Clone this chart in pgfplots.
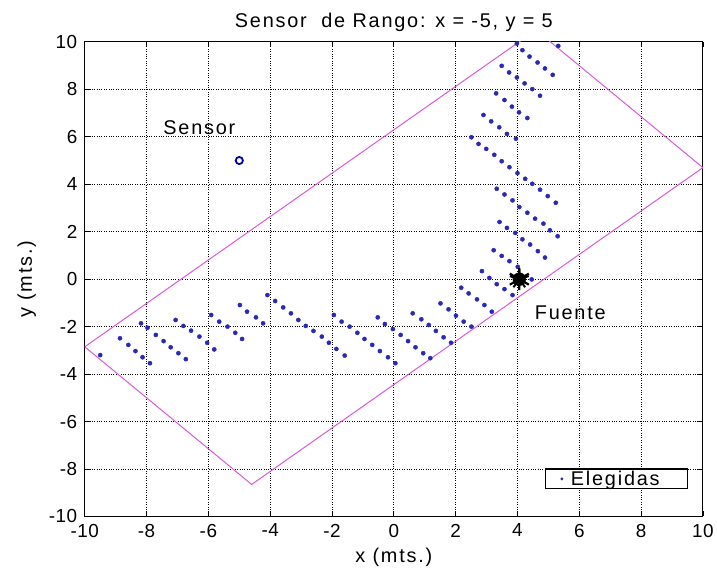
\documentclass[border=0pt]{standalone}
\usepackage{fontspec}
\setmainfont{Liberation Sans}
\usepackage{pgfplots}
\pgfplotsset{compat=1.18}
\definecolor{dotblue}{rgb}{0.16,0.16,0.72}
\definecolor{rectmag}{rgb}{0.85,0.35,0.85}
\newcommand{\txtfont}{\fontsize{20}{24}\selectfont\addfontfeature{LetterSpace=9}}

\begin{document}
\begin{tikzpicture}
\begin{axis}[
  name=ax,
  scale only axis, width=620bp, height=476bp,
  xmin=-10, xmax=10, ymin=-10, ymax=10,
  xtick={-10,-8,...,10}, ytick={-10,-8,...,10},
  grid=major, major grid style={black, dotted, line width=0.9pt},
  axis line style={black, line width=1.1pt},
  tick style={black, line width=0.8pt}, major tick length=5bp, tick align=inside,
  title={Sensor\ \ de Rango: x = -5, y = 5},
  title style={yshift=1bp},
  xlabel={x (mts.)}, ylabel={y (mts.)},
  xlabel shift=4bp, ylabel shift=6bp,
  xticklabel style={yshift=-4bp},
  yticklabel style={xshift=-4bp},
  font=\txtfont,
  tick label style={font=\fontsize{19}{22}\selectfont\addfontfeature{LetterSpace=3}},
  /pgf/number format/assume math mode=true,
  legend style={at={(0.976,0.057)}, anchor=south east, draw=black, line width=1.1pt,
    font=\txtfont, inner xsep=2bp, inner ysep=0bp},
  legend image code/.code={\path[draw=none,fill=none] (0,0) -- (0.75cm,0);
    \fill[dotblue,draw=none] (0.5cm,0) circle (1.6bp);},
]
% area of the range sensor
\addplot[rectmag, line width=1pt, forget plot] coordinates {
  (-10,-2.85) (-4.6,-8.65) (10,4.7) (4.6,10.5) (-10,-2.85)};

% chosen points
\addplot[only marks, mark=*, mark size=2.1bp, dotblue] coordinates {
  (-9.5,-3.2)
  (-8.86,-2.49) (-8.59,-2.77) (-8.36,-3.03) (-8.13,-3.29) (-7.89,-3.54)
  (-8.18,-1.86) (-7.97,-2.05) (-7.70,-2.35) (-7.45,-2.61) (-7.22,-2.87) (-6.97,-3.12) (-6.73,-3.37)
  (-7.06,-1.72) (-6.81,-1.97) (-6.56,-2.17) (-6.29,-2.42) (-6.04,-2.68) (-5.81,-2.96)
  (-5.91,-1.51) (-5.65,-1.79) (-5.38,-2.00) (-5.13,-2.26) (-4.91,-2.52)
  (-4.98,-1.09) (-4.75,-1.37) (-4.46,-1.61) (-4.23,-1.86)
  (-4.09,-0.67) (-3.84,-0.92) (-3.58,-1.19) (-3.33,-1.44) (-3.09,-1.72) (-2.85,-1.97)
  (-2.60,-2.18) (-2.33,-2.42) (-2.10,-2.68) (-1.86,-2.94) (-1.59,-3.22)
  (-1.94,-1.51) (-1.69,-1.79) (-1.43,-2.00) (-1.18,-2.26) (-0.95,-2.52) (-0.70,-2.77)
  (-0.45,-3.03) (-0.19,-3.29) (0.05,-3.54)
  (-0.52,-1.61) (-0.29,-1.89) (-0.03,-2.10) (0.22,-2.35) (0.46,-2.61) (0.70,-2.87) (0.95,-3.12) (1.18,-3.33)
  (0.61,-1.44) (0.89,-1.69) (1.13,-1.93) (1.36,-2.18) (1.61,-2.45) (1.85,-2.68)
  (1.51,-1.02) (1.77,-1.27) (2.01,-1.54) (2.26,-1.79) (2.51,-2.00)
  (2.18,-0.36) (2.42,-0.60) (2.69,-0.85) (2.93,-1.09) (3.17,-1.37)
  (2.85,0.34) (3.09,0.05) (3.33,-0.21) (3.58,-0.42) (3.84,-0.67)
  (3.23,1.22) (3.49,0.98) (3.74,0.76) (4.01,0.52) (4.46,-0.01)
  (3.42,2.41) (3.66,2.16) (3.93,1.95) (4.16,1.68) (4.41,1.46) (4.66,1.18) (4.89,0.91)
  (3.33,3.81) (3.58,3.57) (3.84,3.32) (4.06,3.04) (4.32,2.80) (4.57,2.55) (4.84,2.34) (5.05,2.06) (5.30,1.81)
  (2.51,5.98) (2.74,5.70) (2.99,5.49) (3.25,5.24) (3.49,4.97) (3.74,4.72) (4.00,4.47) (4.25,4.23)
  (4.48,4.02) (4.73,3.77) (4.98,3.50) (5.24,3.22)
  (2.90,6.92) (3.15,6.65) (3.41,6.40) (3.66,6.12) (3.95,5.92)
  (3.31,7.83) (3.58,7.55) (3.82,7.27) (4.05,7.03) (4.32,6.79)
  (3.49,8.99) (3.73,8.71) (3.98,8.50) (4.23,8.25) (4.48,8.01) (4.73,7.73)
  (3.98,9.93) (4.16,9.65) (4.39,9.38) (4.65,9.13) (4.89,8.88) (5.14,8.61)
  (5.32,9.83)
};
\addlegendentry{Elegidas\hspace*{24bp}}

% sensor
\addplot[only marks, mark=o, mark size=3.6bp, line width=1.8pt, blue!70!black, forget plot]
  coordinates {(-5,5)};
% source
\addplot[only marks, mark=asterisk, mark size=11bp, line width=2.2pt, black, forget plot]
  coordinates {(4.06,0)};
\addplot[only marks, mark=star, mark size=10bp, line width=2pt, black, forget plot]
  coordinates {(4.06,0)};
\addplot[only marks, mark=*, mark size=6.5bp, black, forget plot]
  coordinates {(4.06,0)};

\node at (axis cs:-6.29,6.39) {Sensor};
\node at (axis cs:5.71,-1.43) {Fuente};
\end{axis}
\path (ax.south west) ++(-85bp,-64bp);
\path (ax.north east) ++(12bp,42bp);
\end{tikzpicture}
\end{document}
